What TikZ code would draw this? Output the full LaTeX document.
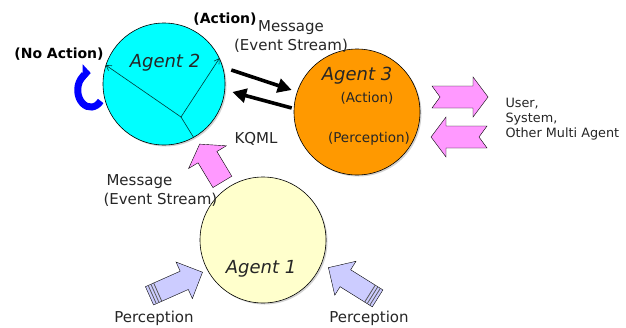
\documentclass[tikz,border=0pt]{standalone}
\usepackage{fontspec}
\setmainfont{DejaVu Sans}
\usetikzlibrary{arrows.meta,calc,positioning,shadows}

\definecolor{agentcyan}{RGB}{0,255,255}
\definecolor{agentorange}{RGB}{255,153,0}
\definecolor{agentcream}{RGB}{255,255,204}
\definecolor{arrowpink}{RGB}{255,153,255}
\definecolor{perclav}{RGB}{204,204,255}
\definecolor{loopblue}{RGB}{0,0,255}

\tikzset{
    blockarrow/.pic={
        \path[pic actions] (-29,-10) -- (9,-10) -- (9,-20) -- (29,0) -- (9,20) -- (9,10) -- (-29,10) -- cycle;
    },
    perceptarrow/.pic={
        \path[pic actions] (-29,-10) -- (9,-10) -- (9,-20) -- (29,0) -- (9,20) -- (9,10) -- (-29,10) -- cycle;
        \foreach \s in {-26,-23,-20}
            \draw[black!65,line width=0.8pt] (\s,-10) -- (\s,10);
    },
    notcharrow/.pic={
        \path[pic actions] (-28,-11) -- (13,-11) -- (13,-20) -- (28,0) -- (13,20) -- (13,11) -- (-28,11) -- (-20,0) -- cycle;
    }
}

\begin{document}
\begin{tikzpicture}[x=1pt, y=-1pt,
        agent/.style = {circle,draw,line width=0.6pt,minimum size=126pt,inner sep=0pt,
            drop shadow={shadow xshift=1.5pt,shadow yshift=-1.5pt,opacity=0.35}},
        agentname/.style = {anchor=base,font=\fontsize{18}{20}\selectfont\itshape,text=black!85},
        lbl/.style = {anchor=base,font=\fontsize{15}{17}\selectfont,text=black!85},
        smalllbl/.style = {lbl,font=\fontsize{13.5}{15}\selectfont},
        boldlbl/.style = {anchor=base,font=\fontsize{14}{16}\selectfont\bfseries},
        msgarrow/.style = {line width=3.6pt,-{Triangle[length=14pt,width=14pt]}},
        splitline/.style = {line width=0.6pt,draw=teal!45!black},
        noaction/.style = {line width=7pt,draw=loopblue,-{Triangle[length=8pt,width=17pt]}},
        shade/.style = {drop shadow={shadow xshift=1.2pt,shadow yshift=-1.2pt,fill=black!70,opacity=0.8}}]
    \path[use as bounding box,fill=white] (0,0) rectangle (626,327);

    \node [agent,fill=agentcyan,minimum size=122pt] (agent2) at (164,84) {};
    \node [agent,fill=agentorange] (agent3) at (357,112) {};
    \node [agent,fill=agentcream] (agent1) at (263,240) {};

    \coordinate (hub) at ($(agent2.center)+(17,33)$);
    \draw [splitline,-{Straight Barb[length=5pt,width=6pt]}] (hub) -- (agent2.25);
    \draw [splitline,-{Straight Barb[length=5pt,width=6pt]}] (hub) -- (agent2.162);
    \draw [splitline] (hub) -- (agent2.-61);

    \draw [noaction] ($(agent2.west)+(-2,17)$) arc[x radius=13,y radius=17,start angle=40,end angle=270];

    \draw [msgarrow] ($(agent2.east)+(6,-14)$) -- ($(agent3.west)+(-2,-22)$);
    \draw [msgarrow] ($(agent3.west)+(-2,-4)$) -- ($(agent2.east)+(7,8)$);

    \pic [draw,fill=arrowpink,shade,rotate=121,xscale=0.76,yscale=1.1] (kqmlarrow) at (211,163) {blockarrow};
    \pic [draw,fill=perclav,shade,rotate=24] (percleft) at (176,284) {perceptarrow};
    \pic [draw,fill=perclav,shade,rotate=148] (percright) at (353,283) {perceptarrow};
    \pic [draw,fill=arrowpink,shade] (toworld) at (460,97) {notcharrow};
    \pic [draw,fill=arrowpink,shade,rotate=180] (fromworld) at (459,137) {notcharrow};

    \node [agentname] (name2) at (165,67) {Agent 2};
    \node [agentname] (name3) at (357,80) {Agent 3};
    \node [agentname] (name1) at (261,273) {Agent 1};

    \node [boldlbl] (actionlbl) at (225,23) {(Action)};
    \node [boldlbl] (noactionlbl) at (59,58) {(No Action)};
    \node [lbl] (msgtop) at (291,31) {Message};
    \node [lbl] (streamtop) at (291,50) {(Event Stream)};
    \node [smalllbl] (act3) at (367,102) {(Action)};
    \node [smalllbl] (perc3) at (369,142) {(Perception)};
    \node [lbl] (kqml) at (256,143) {KQML};
    \node [lbl,anchor=base west] (msglow) at (103,185) {Message};
    \node [lbl,anchor=base west] (streamlow) at (100,204) {(Event Stream)};
    \node [lbl,anchor=base west,font=\fontsize{12.8}{15}\selectfont] (user) at (502,107) {User,};
    \node [lbl,anchor=base west,font=\fontsize{12.8}{15}\selectfont] (system) at (502,122) {System,};
    \node [lbl,anchor=base west,font=\fontsize{12.8}{15}\selectfont] (others) at (502,137) {Other Multi Agent};
    \node [lbl] (perclbl1) at (154,322) {Perception};
    \node [lbl] (perclbl2) at (369,322) {Perception};
\end{tikzpicture}
\end{document}
